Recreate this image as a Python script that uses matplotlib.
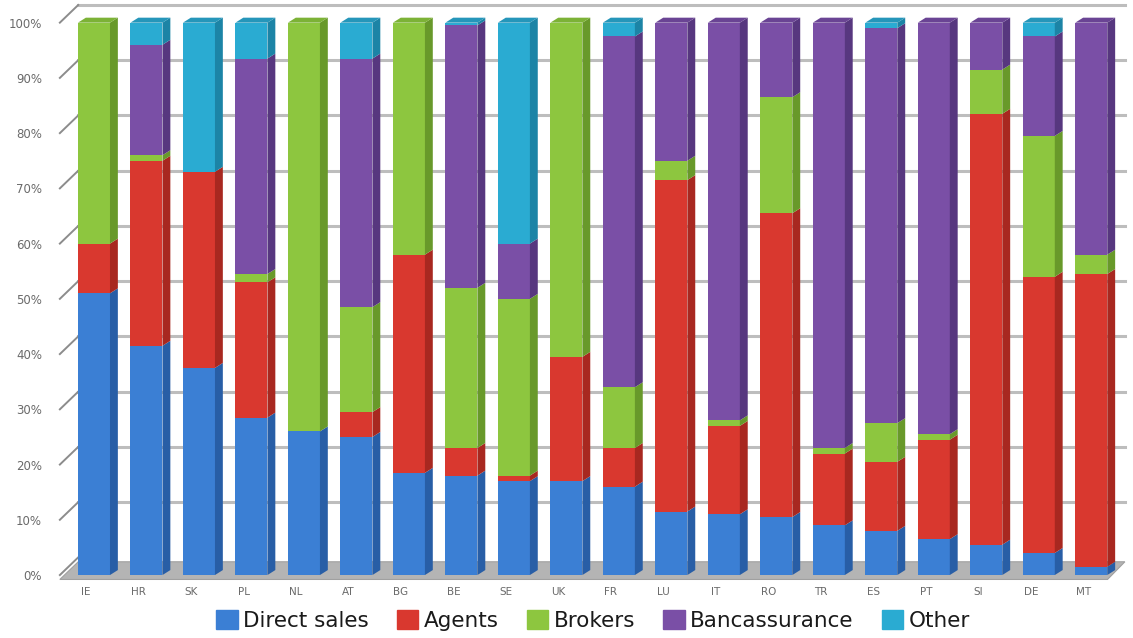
import matplotlib.pyplot as plt
from matplotlib.patches import Polygon
from matplotlib.lines import Line2D

countries = ["IE", "HR", "SK", "PL", "NL", "AT", "BG", "BE", "SE", "UK",
             "FR", "LU", "IT", "RO", "TR", "ES", "PT", "SI", "DE", "MT"]

direct = [51, 41.5, 37.5, 28.5, 26, 25, 18.5, 18, 17, 17,
          16, 11.5, 11, 10.5, 9, 8, 6.5, 5.5, 4, 1.5]
agents = [9, 33.5, 35.5, 24.5, 0, 4.5, 39.5, 5, 1, 22.5,
          7, 60, 16, 55, 13, 12.5, 18, 78, 50, 53]
brokers = [40, 1, 0, 1.5, 74, 19, 42, 29, 32, 60.5,
           11, 3.5, 1, 21, 1, 7, 1, 8, 25.5, 3.5]
banca = [0, 20, 0, 39, 0, 45, 0, 47.5, 10, 0,
         63.5, 25, 72, 13.5, 77, 71.5, 74.5, 8.5, 18, 42]
other = [0, 4, 27, 6.5, 0, 6.5, 0, 0.5, 40, 0,
         2.5, 0, 0, 0, 0, 1, 0, 0, 2.5, 0]

series = [("Direct sales", direct), ("Agents", agents), ("Brokers", brokers),
          ("Bancassurance", banca), ("Other", other)]
colors = ["#3b7fd4", "#d9382f", "#8dc63f", "#7a4fa6", "#2aabd2"]
sides = ["#285ea6", "#a82820", "#68992a", "#57377f", "#1c84a6"]
tops = ["#3270bd", "#c0302a", "#7cb236", "#6a4494", "#2596ba"]

fig = plt.figure(figsize=(11.33, 6.38), dpi=100)
ax = fig.add_axes([0.0482, 0.0857, 0.9474, 0.9143])
ax.set_xlim(-0.75, 19.7)
ax.set_ylim(-1.5, 104.1)
for s in ax.spines.values():
    s.set_visible(False)

# back wall offset / bar depth
wdx, wdy = 0.36, 3.2
bdx, bdy = 0.15, 0.9
w = 0.61

# floor
ax.add_patch(Polygon([(-0.65, -0.8), (19.31, -0.8), (19.64, 2.4), (-0.3, 2.4)],
                     closed=True, fc="#b4b4b4", ec="#a0a0a0", lw=0.8, zorder=1))
# gridlines on back wall + diagonal ticks
yt = list(range(0, 101, 10))
for v in yt:
    if v > 0:
        ax.add_line(Line2D([-0.3, 19.64], [v + wdy, v + wdy], color="#bdbdbd", lw=2.2, zorder=0.5))
    ax.add_line(Line2D([-0.65, -0.3], [v, v + wdy], color="#8c8c8c", lw=1.4, zorder=0.5))

xs = list(range(len(countries)))
for i, x in enumerate(xs):
    bottom = 0
    top_idx = None
    for k, (name, vals) in enumerate(series):
        h = vals[i]
        if h <= 0:
            continue
        ax.bar(x, h, bottom=bottom, width=w, color=colors[k], zorder=3, lw=0)
        r = x + w / 2
        ax.add_patch(Polygon([(r, bottom), (r + bdx, bottom + bdy), (r + bdx, bottom + h + bdy), (r, bottom + h)],
                             closed=True, fc=sides[k], ec="none", zorder=3))
        bottom += h
        top_idx = k
    l = x - w / 2
    ax.add_patch(Polygon([(l, bottom), (l + bdx, bottom + bdy), (l + w + bdx, bottom + bdy), (l + w, bottom)],
                         closed=True, fc=tops[top_idx], ec="none", zorder=3))

ax.set_yticks(yt)
ax.set_yticklabels([f"{v}%" for v in yt], color="#6a6a6a", fontsize=8.5)
ax.set_xticks([x - 0.15 for x in xs])
ax.set_xticklabels(countries, color="#6a6a6a", fontsize=7.5)
ax.tick_params(axis="both", length=0)
ax.tick_params(axis="y", pad=9)
ax.tick_params(axis="x", pad=3)

handles = [plt.Rectangle((0, 0), 1, 1, color=c) for c in colors]
fig.legend(handles, [n for n, _ in series], loc="center", bbox_to_anchor=(593 / 1133, 0.028),
           ncol=5, frameon=False, fontsize=15.5, handlelength=1.0, handleheight=1.0,
           handletextpad=0.25, columnspacing=1.3, labelcolor="#1a1a1a")

fig.savefig("out.png", dpi=100)
